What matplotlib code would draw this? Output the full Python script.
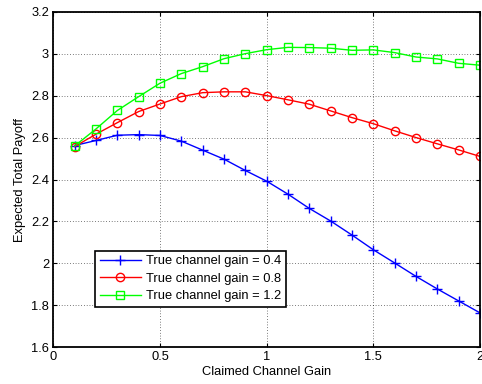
import matplotlib
matplotlib.use("Agg")
import matplotlib.pyplot as plt

x = [0.1, 0.2, 0.3, 0.4, 0.5, 0.6, 0.7, 0.8, 0.9, 1.0,
     1.1, 1.2, 1.3, 1.4, 1.5, 1.6, 1.7, 1.8, 1.9, 2.0]
gain_04 = [2.562, 2.586, 2.611, 2.614, 2.610, 2.583, 2.540, 2.497, 2.443, 2.392,
           2.330, 2.262, 2.202, 2.135, 2.065, 2.002, 1.938, 1.878, 1.821, 1.764]
gain_08 = [2.557, 2.616, 2.671, 2.724, 2.760, 2.795, 2.814, 2.818, 2.818, 2.800,
           2.780, 2.759, 2.727, 2.695, 2.666, 2.632, 2.600, 2.570, 2.541, 2.510]
gain_12 = [2.560, 2.641, 2.729, 2.795, 2.859, 2.905, 2.938, 2.976, 3.000, 3.019,
           3.030, 3.029, 3.026, 3.016, 3.018, 3.005, 2.984, 2.975, 2.954, 2.945]
labels = ["True channel gain = 0.4", "True channel gain = 0.8", "True channel gain = 1.2"]
xticks = [0, 0.5, 1, 1.5, 2]
yticks = [1.6, 1.8, 2.0, 2.2, 2.4, 2.6, 2.8, 3.0, 3.2]
yticklabels = ["1.6", "1.8", "2", "2.2", "2.4", "2.6", "2.8", "3", "3.2"]

plt.rcParams['font.family'] = ['Liberation Sans', 'DejaVu Sans']
fs = 9.3
fig = plt.figure(figsize=(4.82, 3.84), dpi=100)
ax = fig.add_axes([0.1106, 0.0956, 0.8853, 0.8739])

ax.plot(x, gain_04, color=(0, 0, 1), marker='+', markersize=7, markeredgewidth=1.0, lw=1.0, label=labels[0])
ax.plot(x, gain_08, color=(1, 0, 0), marker='o', markersize=6, markerfacecolor='none', markeredgewidth=1.0, lw=1.0, label=labels[1])
ax.plot(x, gain_12, color=(0, 1, 0), marker='s', markersize=5.5, markerfacecolor='none', markeredgewidth=1.0, lw=1.0, label=labels[2])

ax.set_xlim(0, 2)
ax.set_ylim(1.6, 3.2)
ax.set_xticks(xticks)
ax.set_xticklabels(["0", "0.5", "1", "1.5", "2"])
ax.set_yticks(yticks)
ax.set_yticklabels(yticklabels)
ax.tick_params(direction='in', top=True, right=True, labelsize=fs, length=3, pad=3)
ax.grid(True, linestyle=(0, (1, 3)), color='black', linewidth=0.5)
for s in ax.spines.values():
    s.set_linewidth(1.3)
ax.set_xlabel("Claimed Channel Gain", fontsize=fs, labelpad=2)
ax.set_ylabel("Expected Total Payoff", fontsize=fs, labelpad=4)

leg = ax.legend(loc='lower left', bbox_to_anchor=(0.0977, 0.121), fontsize=fs,
                fancybox=False, edgecolor='black', framealpha=1, borderpad=0.35,
                labelspacing=0.42, handlelength=3.2, handletextpad=0.4, borderaxespad=0)
leg.get_frame().set_linewidth(1.2)

fig.savefig("out.png", dpi=100)
